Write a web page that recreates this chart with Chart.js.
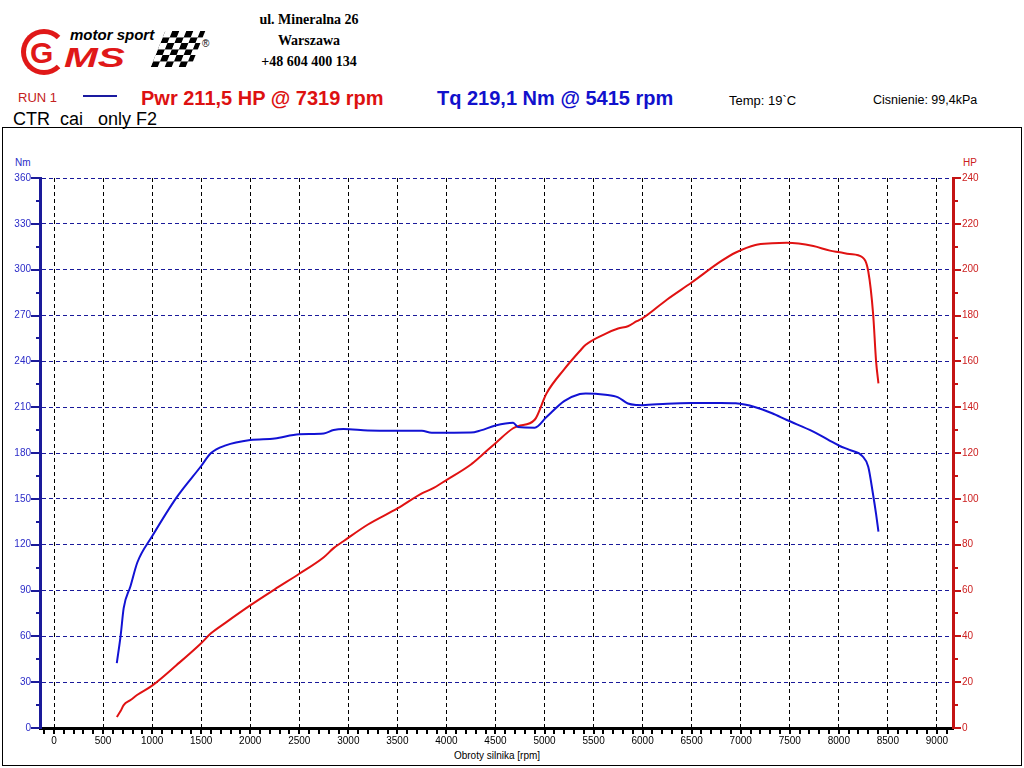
<!DOCTYPE html>
<html>
<head>
<meta charset="utf-8">
<script src="https://cdn.jsdelivr.net/npm/chart.js@4/dist/chart.umd.min.js"></script>
<style>
  body { margin: 0; background: #fff; font-family: "Liberation Sans", Arial, sans-serif; }
  #page { position: relative; width: 1024px; height: 768px; overflow: hidden; }
  .t { position: absolute; white-space: pre; line-height: 1; }
  #frame { position: absolute; left: 2px; top: 127px; width: 1018px; height: 637px; border: 1px solid #000; }
  #dyno { position: absolute; left: 0; top: 0; }
  #ring { position: absolute; left: 21px; top: 29px; width: 36px; height: 36px; border: 5px solid #e01818; border-radius: 50%; border-right-color: transparent; }
  #flag { position: absolute; left: 158px; top: 31px; width: 40px; height: 36px;
    background: repeating-conic-gradient(#000 0 25%, #fff 0 50%) 0 0 / 14px 12px;
    transform: skewX(-22deg); }
</style>
</head>
<body>
<div id="page">
  <div id="frame"></div>

  <div id="ring"></div>
  <div class="t" style="left:30px;top:38px;font-size:30px;font-weight:bold;color:#e01818;">G</div>
  <div class="t" style="left:70px;top:27px;font-size:15px;font-weight:bold;font-style:italic;">motor sport</div>
  <div class="t" style="left:64px;top:44px;font-size:28px;font-weight:bold;font-style:italic;color:#e01818;transform:scaleX(1.45);transform-origin:left;">MS</div>
  <div id="flag"></div>
  <div class="t" style="left:202px;top:39px;font-size:10px;">®</div>

  <div class="t" style="left:209px;top:13px;width:200px;text-align:center;font-family:'Liberation Serif',serif;font-weight:bold;font-size:14px;">ul. Mineralna 26</div>
  <div class="t" style="left:209px;top:34px;width:200px;text-align:center;font-family:'Liberation Serif',serif;font-weight:bold;font-size:14px;">Warszawa</div>
  <div class="t" style="left:209px;top:55px;width:200px;text-align:center;font-family:'Liberation Serif',serif;font-weight:bold;font-size:14px;">+48 604 400 134</div>

  <div class="t" style="left:18px;top:91px;font-size:13px;color:#c42020;">RUN 1</div>
  <div style="position:absolute;left:83px;top:95px;width:34px;height:2px;background:#1a1aa0;"></div>
  <div class="t" style="left:141px;top:88px;font-size:20px;font-weight:bold;color:#dd1111;">Pwr 211,5 HP @ 7319 rpm</div>
  <div class="t" style="left:437px;top:88px;font-size:20px;font-weight:bold;color:#1111cc;">Tq 219,1 Nm @ 5415 rpm</div>
  <div class="t" style="left:729px;top:94px;font-size:13px;">Temp: 19`C</div>
  <div class="t" style="left:873px;top:94px;font-size:12.5px;">Cisnienie: 99,4kPa</div>
  <div class="t" style="left:13px;top:110px;font-size:18px;">CTR  cai   only F2</div>

  <div class="t" style="left:15px;top:158px;font-size:10px;color:#2b2bc8;">Nm</div>
  <div class="t" style="left:963px;top:158px;font-size:10px;color:#cc2020;">HP</div>
  <div class="t" style="left:397px;top:751px;width:200px;text-align:center;font-size:10px;">Obroty silnika [rpm]</div>

  <canvas id="dyno" width="1024" height="768"></canvas>
</div>

<script>
// engine speed, rpm
var rpm = [640, 680, 710, 780, 850, 1000, 1250, 1500, 1600, 1750, 2000, 2250, 2500, 2750, 2850, 2950,
  3200, 3500, 3750, 3850, 4000, 4250, 4350, 4500, 4680, 4730, 4900, 5020, 5200, 5360, 5420, 5620,
  5750, 5850, 5940, 6000, 6250, 6500, 6800, 6950, 7150, 7320, 7470, 7740, 7910, 8010, 8110, 8240,
  8300, 8350, 8380, 8404];
// torque, Nm
var torque = [42.5, 61, 78.5, 93, 108.5, 125.5, 151, 171.5, 180, 185, 188.5, 189.5, 192.3, 192.8, 195, 195.7,
  194.8, 194.6, 194.5, 193.3, 193.3, 193.4, 194.8, 198, 199.8, 197, 196.6, 203.5, 214, 218.6, 219, 218.1,
  216.4, 212.4, 211.4, 211.3, 212.3, 212.7, 212.7, 212.5, 210, 206, 201.6, 194, 188, 184.6, 182, 178,
  171, 152.5, 140, 128.5];
// power, HP
var power = [4.8, 7.5, 10, 12.2, 14.5, 18.5, 27.5, 37, 41.3, 46, 53.5, 60.5, 67.3, 74.5, 78.5, 81.5,
  88.8, 95.8, 102.4, 104.3, 108.2, 115, 118.6, 124.3, 130.8, 131.7, 134.5, 146, 156.5, 164.5, 167.2, 172,
  174.3, 175.3, 177.5, 178.8, 187, 194.4, 203.7, 207.5, 210.8, 211.5, 211.7, 210.3, 208.3, 207.6, 206.8, 205.4,
  199.3, 180.5, 160, 150.4];

var rpmTicks = [0, 500, 1000, 1500, 2000, 2500, 3000, 3500, 4000, 4500, 5000, 5500, 6000, 6500, 7000, 7500, 8000, 8500, 9000];
var nmTicks = [0, 30, 60, 90, 120, 150, 180, 210, 240, 270, 300, 330, 360];
var hpTicks = [0, 20, 40, 60, 80, 100, 120, 140, 160, 180, 200, 220, 240];

var tickFont = { family: "Liberation Sans", size: 10 };

function setTicks(list) {
  return function (scale) { scale.ticks = list.map(function (v) { return { value: v }; }); };
}
function plain(v) { return String(v); }

// small tick marks along the three axes
var tickMarks = {
  id: 'tickMarks',
  afterDraw: function (chart) {
    var c = chart.ctx, a = chart.chartArea;
    var sx = chart.scales.x, sl = chart.scales.yL, sr = chart.scales.yR;
    var v, p, len;
    c.save();
    c.lineWidth = 2;
    c.strokeStyle = '#000';
    for (v = -100; v <= 9100; v += 100) {
      p = Math.round(sx.getPixelForValue(v));
      c.beginPath(); c.moveTo(p, a.bottom); c.lineTo(p, a.bottom + 6); c.stroke();
    }
    c.strokeStyle = '#1a1a9a';
    for (v = 0; v <= 360; v += 15) {
      p = Math.round(sl.getPixelForValue(v));
      len = v % 30 ? 4 : 9;
      c.beginPath(); c.moveTo(a.left, p); c.lineTo(a.left - len, p); c.stroke();
    }
    c.strokeStyle = '#c41414';
    for (v = 0; v <= 240; v += 10) {
      p = Math.round(sr.getPixelForValue(v));
      len = v % 20 ? 5 : 8;
      c.beginPath(); c.moveTo(a.right, p); c.lineTo(a.right + len, p); c.stroke();
    }
    c.restore();
  }
};

var chart = new Chart(document.getElementById('dyno').getContext('2d'), {
  type: 'line',
  data: {
    datasets: [{
      label: 'Tq',
      data: rpm.map(function (r, i) { return { x: r, y: torque[i] }; }),
      yAxisID: 'yL',
      borderColor: '#1212d4',
      borderWidth: 2,
      pointRadius: 0,
      cubicInterpolationMode: 'monotone'
    }, {
      label: 'Pwr',
      data: rpm.map(function (r, i) { return { x: r, y: power[i] }; }),
      yAxisID: 'yR',
      borderColor: '#e01212',
      borderWidth: 2,
      pointRadius: 0,
      cubicInterpolationMode: 'monotone'
    }]
  },
  plugins: [tickMarks],
  options: {
    responsive: false,
    animation: false,
    layout: { padding: { top: 178, left: 0, right: 0, bottom: 0 } },
    plugins: { legend: { display: false }, tooltip: { enabled: false } },
    scales: {
      x: {
        type: 'linear',
        position: 'bottom',
        min: -143,
        max: 9164,
        afterBuildTicks: setTicks(rpmTicks),
        afterFit: function (s) { s.height = 40; },
        grid: { color: '#000', lineWidth: 1, drawTicks: false },
        border: { color: '#000', width: 3, dash: [4, 3] },
        ticks: { color: '#000', font: tickFont, padding: 7, autoSkip: false, maxRotation: 0, callback: plain }
      },
      yL: {
        type: 'linear',
        position: 'left',
        min: 0,
        max: 360,
        afterBuildTicks: setTicks(nmTicks),
        afterFit: function (s) { s.width = 40; },
        grid: { color: '#1a1a9a', lineWidth: 1, drawTicks: false },
        border: { color: '#1a1a9a', width: 3, dash: [4, 3] },
        ticks: { color: '#2b2bc8', font: tickFont, padding: 9, callback: plain }
      },
      yR: {
        type: 'linear',
        position: 'right',
        min: 0,
        max: 240,
        afterBuildTicks: setTicks(hpTicks),
        afterFit: function (s) { s.width = 71; },
        grid: { drawOnChartArea: false, drawTicks: false },
        border: { color: '#c41414', width: 3 },
        ticks: { color: '#cc2020', font: tickFont, padding: 9, callback: plain }
      }
    }
  }
});
</script>
</body>
</html>
